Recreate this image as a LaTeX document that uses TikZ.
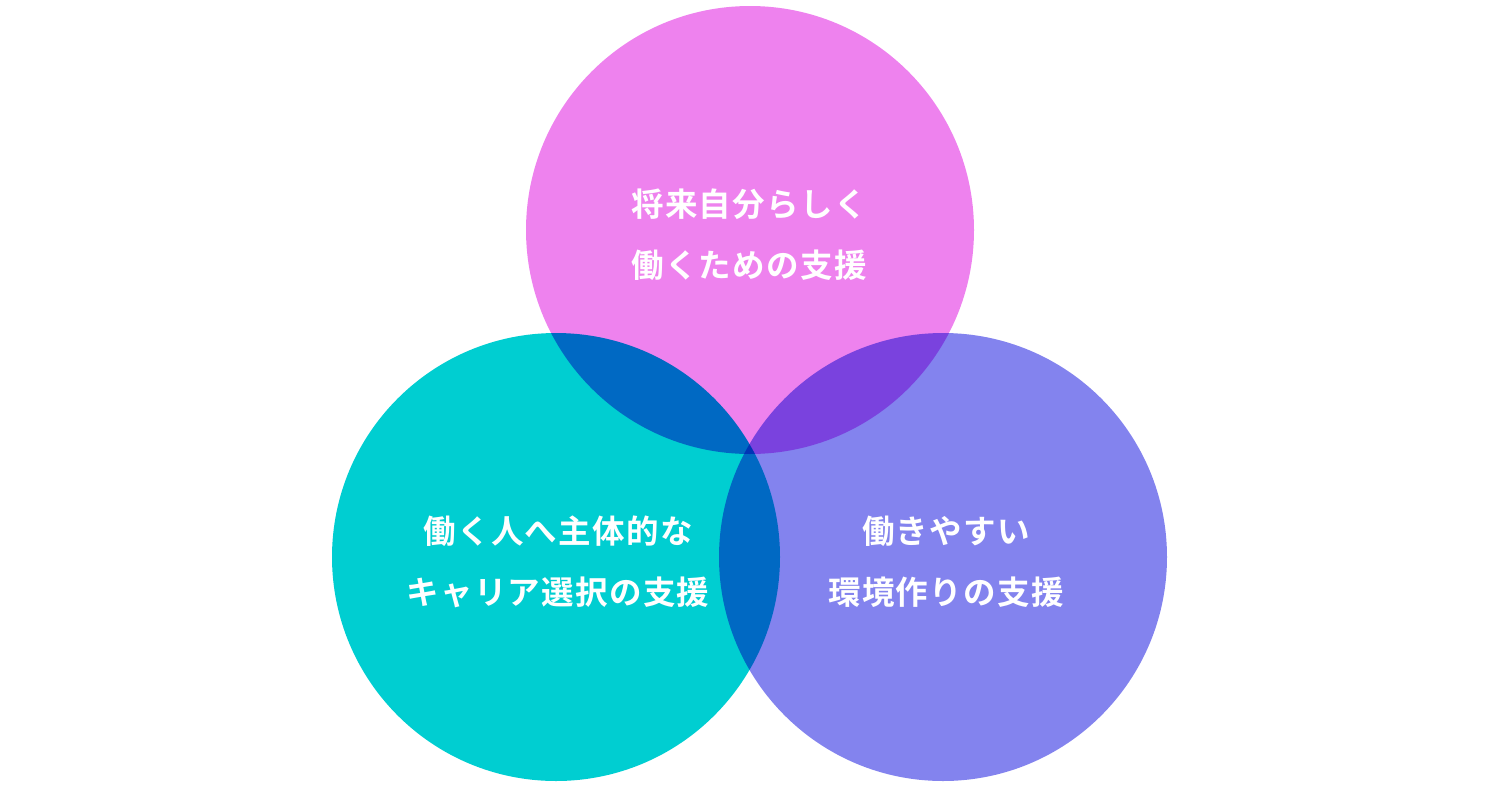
\documentclass[tikz,border=0pt]{standalone}
\usepackage{fontspec}
\newfontfamily\cjk[LetterSpace=4]{Noto Sans CJK JP Bold}
\definecolor{cpink}{RGB}{238,130,238}
\definecolor{cturq}{RGB}{0,206,209}
\definecolor{cslate}{RGB}{131,131,238}
\begin{document}
\begin{tikzpicture}[x=1pt,y=-1pt,
  venn/.style={circle,minimum size=448pt,inner sep=0pt,draw=none},
  lbl/.style={text=white,align=center,font=\cjk\fontsize{32.5}{61}\selectfont,inner sep=0pt}]
\useasboundingbox (0,0) rectangle (1500,788);
\begin{scope}[blend group=multiply]
\node[venn,fill=cpink] (top) at (750,230) {};
\node[venn,fill=cturq] (left) at (556,557) {};
\node[venn,fill=cslate] (right) at (943,557) {};
\end{scope}
\node[lbl] (tt) at (749,235) {将来自分らしく\\働くための支援};
\node[lbl] (lt) at (558,562) {働く人へ主体的な\\キャリア選択の支援};
\node[lbl] (rt) at (946,562) {働きやすい\\環境作りの支援};
\end{tikzpicture}
\end{document}
